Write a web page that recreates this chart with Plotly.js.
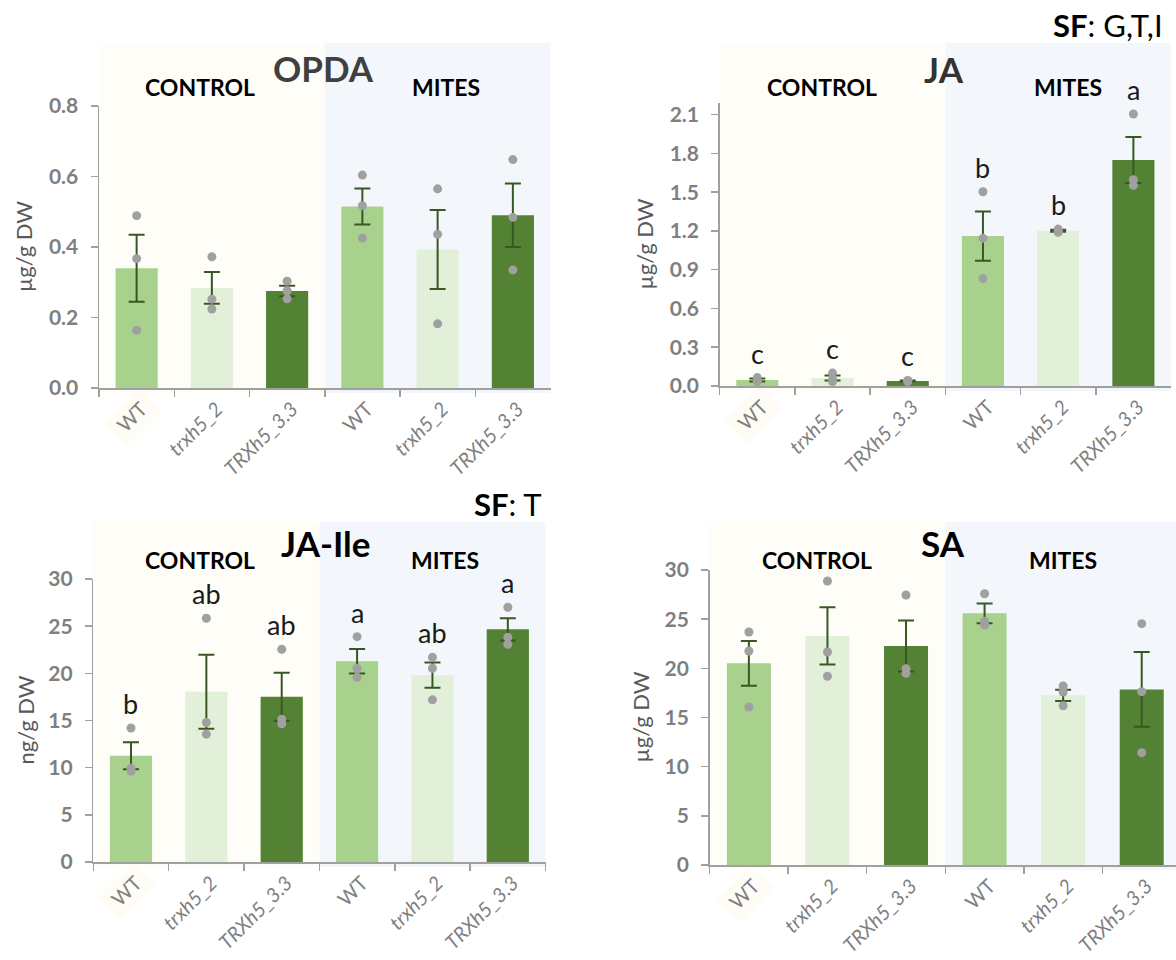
<!DOCTYPE html>
<html>
<head>
<meta charset="utf-8">
<script src="https://cdn.plot.ly/plotly-3.0.1.min.js"></script>
<style>html,body{margin:0;padding:0;background:#fff;}#chart{width:1176px;height:960px;}</style>
</head>
<body>
<div id="chart"></div>
<script>
// ---------- data ----------
const categories = ['CONTROL WT', 'CONTROL trxh5_2', 'CONTROL TRXh5_3.3', 'MITES WT', 'MITES trxh5_2', 'MITES TRXh5_3.3'];
const tickLabels = ['WT', '<i>trxh5_2</i>', '<i>TRXh5_3.3</i>', 'WT', '<i>trxh5_2</i>', '<i>TRXh5_3.3</i>'];
const groupLabels = ['CONTROL', 'MITES'];

const opdaMean = [0.34, 0.284, 0.275, 0.515, 0.393, 0.49];
const opdaSE = [0.095, 0.045, 0.015, 0.051, 0.112, 0.09];
const opdaPoints = [[0.489, 0.367, 0.164], [0.372, 0.252, 0.224], [0.303, 0.276, 0.253], [0.604, 0.517, 0.425], [0.565, 0.436, 0.182], [0.648, 0.484, 0.335]];

const jaMean = [0.047, 0.062, 0.039, 1.16, 1.201, 1.749];
const jaSE = [0.012, 0.02, 0.004, 0.19, 0.008, 0.178];
const jaPoints = [[0.065, 0.04, 0.035], [0.1, 0.05, 0.035], [0.043, 0.04, 0.035], [1.503, 1.144, 0.832], [1.214, 1.2, 1.19], [2.105, 1.596, 1.552]];
const jaLetters = ['c', 'c', 'c', 'b', 'b', 'a'];

const jaileMean = [11.26, 18.04, 17.51, 21.28, 19.8, 24.67];
const jaileSE = [1.43, 3.92, 2.54, 1.3, 1.34, 1.18];
const jailePoints = [[14.2, 9.95, 9.65], [25.84, 14.79, 13.55], [22.55, 15.14, 14.65], [23.89, 20.51, 19.59], [21.71, 20.54, 17.19], [27.0, 23.82, 23.08]];
const jaileLetters = ['b', 'ab', 'ab', 'a', 'ab', 'a'];

const saMean = [20.51, 23.29, 22.27, 25.59, 17.25, 17.86];
const saSE = [2.27, 2.91, 2.6, 1.0, 0.58, 3.8];
const saPoints = [[23.69, 21.76, 16.07], [28.88, 21.66, 19.19], [27.46, 19.97, 19.49], [27.59, 24.78, 24.41], [18.2, 17.59, 16.2], [24.54, 17.63, 11.42]];

const panelTitles = ['OPDA', 'JA', 'JA-Ile', 'SA'];
const yTitles = ['µg/g DW', 'µg/g DW', 'ng/g DW', 'µg/g DW'];
const sfLabels = ['', '<b>SF</b>: G,T,I', '<b>SF</b>: T', ''];

// ---------- styles / geometry ----------
const W = 1176, H = 960;
const barColors = ['#A9D18E', '#E2F0D9', '#548235', '#A9D18E', '#E2F0D9', '#548235'];
const FONT = 'Lato, "Open Sans", sans-serif';
const axisGray = '#a0a0a0';

const panels = [
  {mean: opdaMean, se: opdaSE, pts: opdaPoints, letters: null, left: 99, right: 550.5, top: 106, bottom: 388, ymax: 0.8, dtick: 0.2, fmt: '.1f', bgTop: 43,
   titleX: 324, titleY: 68, titleColor: '#404040', ctrlX: 200, mitesX: 446, grpY: 87, yTitleX: 23, sfX: 0, sfY: 0},
  {mean: jaMean, se: jaSE, pts: jaPoints, letters: jaLetters, left: 719.7, right: 1171, top: 103, bottom: 386, ymax: 2.19, dtick: 0.3, fmt: '.1f', bgTop: 43,
   titleX: 944, titleY: 69, titleColor: '#333333', ctrlX: 822, mitesX: 1068, grpY: 87, yTitleX: 644, sfX: 1165, sfY: 25},
  {mean: jaileMean, se: jaileSE, pts: jailePoints, letters: jaileLetters, left: 93.3, right: 545.5, top: 579, bottom: 862, ymax: 30, dtick: 5, fmt: 'd', bgTop: 522,
   titleX: 326, titleY: 543, titleColor: '#000000', ctrlX: 200, mitesX: 445, grpY: 560, yTitleX: 25, sfX: 544, sfY: 504},
  {mean: saMean, se: saSE, pts: saPoints, letters: null, left: 709.6, right: 1181, top: 570, bottom: 865, ymax: 30, dtick: 5, fmt: 'd', bgTop: 522,
   titleX: 943, titleY: 543, titleColor: '#000000', ctrlX: 817, mitesX: 1063, grpY: 560, yTitleX: 640, sfX: 0, sfY: 0}
];

const px = v => v / W;
const py = v => 1 - v / H;

const data = [];
const layout = {
  width: W, height: H,
  margin: {l: 0, r: 0, t: 0, b: 0},
  paper_bgcolor: '#ffffff',
  plot_bgcolor: 'rgba(0,0,0,0)',
  showlegend: false,
  bargap: 0.44,
  font: {family: FONT},
  shapes: [],
  annotations: []
};

panels.forEach((p, i) => {
  const n = i + 1;
  const xa = n === 1 ? 'x' : 'x' + n;
  const ya = n === 1 ? 'y' : 'y' + n;
  const xKey = n === 1 ? 'xaxis' : 'xaxis' + n;
  const yKey = n === 1 ? 'yaxis' : 'yaxis' + n;
  const catW = (p.right - p.left) / 6;
  const rightEdge = Math.min(p.right, W);
  const r1 = -0.5 + (rightEdge - p.left) / catW;

  layout[xKey] = {
    type: 'category', anchor: ya,
    domain: [px(p.left), px(rightEdge)],
    range: [-0.5, r1],
    categoryorder: 'array', categoryarray: categories,
    tickmode: 'array', tickvals: categories, ticktext: tickLabels,
    tickson: 'boundaries', ticks: 'outside', ticklen: 7, tickwidth: 1.5, tickcolor: axisGray,
    tickangle: -45, ticklabelstandoff: 0, ticklabelshift: 5,
    tickfont: {family: FONT, size: 20, color: '#7f7f7f'},
    showline: true, linecolor: axisGray, linewidth: 1.5,
    showgrid: false, zeroline: false, fixedrange: true
  };
  layout[yKey] = {
    anchor: xa,
    domain: [py(p.bottom), py(p.top)],
    range: [0, p.ymax],
    tick0: 0, dtick: p.dtick, tickformat: p.fmt,
    ticks: 'outside', ticklen: 7, tickwidth: 1.5, tickcolor: axisGray,
    ticklabelstandoff: 8,
    tickfont: {family: FONT, size: 21, color: '#7f7f7f', weight: 'bold'},
    showline: true, linecolor: axisGray, linewidth: 1.5,
    showgrid: false, zeroline: false, fixedrange: true
  };

  // bars with error bars
  data.push({
    type: 'bar', x: categories, y: p.mean, xaxis: xa, yaxis: ya,
    marker: {color: barColors, line: {width: 0}},
    error_y: {type: 'data', array: p.se, visible: true, color: '#385723', thickness: 2, width: 8},
    hoverinfo: 'skip'
  });
  // individual points
  const xs = [], ys = [];
  p.pts.forEach((arr, k) => arr.forEach(v => { xs.push(categories[k]); ys.push(v); }));
  data.push({
    type: 'scatter', mode: 'markers', x: xs, y: ys, xaxis: xa, yaxis: ya,
    marker: {color: '#a0a0a0', size: 9},
    cliponaxis: false, hoverinfo: 'skip'
  });

  // background panels (control / mites)
  const split = p.left + 3 * catW;
  layout.shapes.push({type: 'rect', xref: 'paper', yref: 'paper', layer: 'below',
    x0: px(p.left), x1: px(split), y0: py(p.bottom + 5), y1: py(p.bgTop),
    fillcolor: '#FEFDF7', line: {width: 0}});
  layout.shapes.push({type: 'rect', xref: 'paper', yref: 'paper', layer: 'below',
    x0: px(split), x1: px(Math.min(p.right, W)), y0: py(p.bottom + 5), y1: py(p.bgTop),
    fillcolor: '#F3F7FC', line: {width: 0}});
  // faint label background behind the first tick label
  const cx = p.left + catW / 2 - 4, cy = p.bottom + 29;
  const u = [0.7071, -0.7071], v = [0.7071, 0.7071], hl = 25, hh = 16;
  const corners = [[hl, hh], [hl, -hh], [-hl, -hh], [-hl, hh]].map(([a, b]) =>
    [px(cx + a * u[0] + b * v[0]), py(cy + a * u[1] + b * v[1])]);
  layout.shapes.push({type: 'path', xref: 'paper', yref: 'paper', layer: 'below',
    path: 'M' + corners.map(c => c[0] + ',' + c[1]).join('L') + 'Z',
    fillcolor: '#FEFCF4', line: {width: 0}});

  // titles & group labels
  layout.annotations.push({xref: 'paper', yref: 'paper', x: px(p.titleX), y: py(p.titleY),
    xanchor: 'center', yanchor: 'middle', showarrow: false, text: '<b>' + panelTitles[i] + '</b>',
    font: {family: FONT, size: 35, color: p.titleColor}});
  layout.annotations.push({xref: 'paper', yref: 'paper', x: px(p.ctrlX), y: py(p.grpY),
    xanchor: 'center', yanchor: 'middle', showarrow: false, text: '<b>' + groupLabels[0] + '</b>',
    font: {family: FONT, size: 23, color: '#000000'}});
  layout.annotations.push({xref: 'paper', yref: 'paper', x: px(p.mitesX), y: py(p.grpY),
    xanchor: 'center', yanchor: 'middle', showarrow: false, text: '<b>' + groupLabels[1] + '</b>',
    font: {family: FONT, size: 23, color: '#000000'}});
  // y-axis title
  layout.annotations.push({xref: 'paper', yref: 'paper', x: px(p.yTitleX), y: py((p.top + p.bottom) / 2),
    xanchor: 'center', yanchor: 'middle', showarrow: false, textangle: -90, text: yTitles[i],
    font: {family: FONT, size: 22, color: '#595959'}});
  if (sfLabels[i]) {
    layout.annotations.push({xref: 'paper', yref: 'paper', x: px(p.sfX), y: py(p.sfY),
      xanchor: 'right', yanchor: 'middle', showarrow: false, text: sfLabels[i],
      font: {family: FONT, size: 31, color: '#000000'}});
  }
  // significance letters
  if (p.letters) {
    p.letters.forEach((t, k) => {
      const top = Math.max(p.mean[k] + p.se[k], ...p.pts[k]);
      layout.annotations.push({xref: xa, yref: ya, x: categories[k], y: top,
        xanchor: 'center', yanchor: 'bottom', yshift: 6, showarrow: false, text: t,
        font: {family: FONT, size: 27, color: '#1a1a1a'}});
    });
  }
});

Plotly.newPlot('chart', data, layout, {staticPlot: true, displayModeBar: false});
</script>
</body>
</html>
